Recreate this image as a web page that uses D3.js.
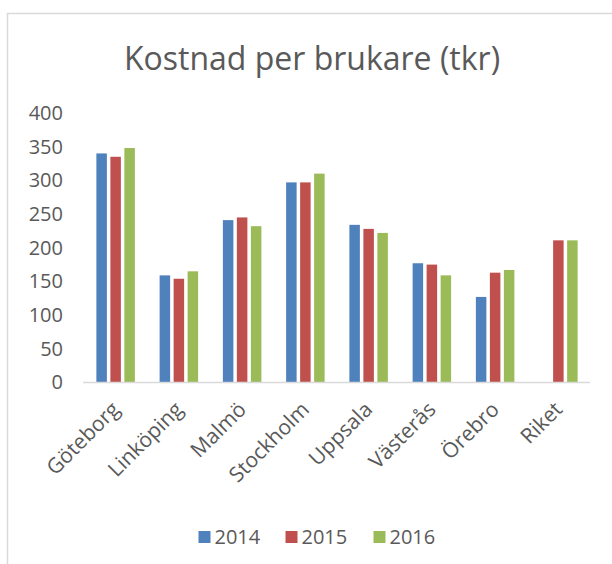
<!DOCTYPE html>
<html><head><meta charset="utf-8">
<script src="https://cdn.jsdelivr.net/npm/d3@7"></script>
<style>body{margin:0;background:#fff}svg{display:block}</style>
</head><body>
<script>
const categories = ["Göteborg","Linköping","Malmö","Stockholm","Uppsala","Västerås","Örebro","Riket"];
const seriesNames = ["2014","2015","2016"];
const v2014 = [340,159,241,297,234,177,127,null];
const v2015 = [335,154,245,297,228,175,163,211];
const v2016 = [348,165,232,310,222,159,167,211];
const yTicks = [0,50,100,150,200,250,300,350,400];
const colors = ["#4F81BD","#C0504D","#9BBB59"];
const seriesVals = [v2014, v2015, v2016];

const W = 612, H = 564;
const svg = d3.select("body").append("svg").attr("width", W).attr("height", H);
const font = "'Open Sans', 'Noto Sans', sans-serif";
const txt = "#595959";

// frame
svg.append("path").attr("d", `M7.5,${H} V13.5 H${W}`).attr("fill","none").attr("stroke","#D9D9D9").attr("stroke-width",1.5);

svg.append("text").attr("x", 312).attr("y", 70).attr("text-anchor","middle")
  .attr("font-family", font).attr("font-size", 32).attr("fill", txt).text("Kostnad per brukare (tkr)");

const x0 = d3.scaleBand().domain(categories).range([84, 590]).paddingInner(0).paddingOuter(0);
const y = d3.scaleLinear().domain([0,400]).range([382.5, 113]);

// y labels
const yAxis = svg.append("g").attr("transform","translate(63,0)")
  .call(d3.axisLeft(y).tickValues(yTicks).tickSize(0).tickPadding(0));
yAxis.select(".domain").remove();
yAxis.selectAll("text").attr("font-family", font).attr("font-size", 20).attr("fill", txt);

// bars
const step = 14, bw = 10.5;
seriesVals.forEach((vals, si) => {
  svg.append("g").selectAll("rect").data(categories.map((c,i)=>({c, v: vals[i]})).filter(d=>d.v!=null))
    .join("rect")
    .attr("x", d => x0(d.c) + x0.bandwidth()/2 + (si-1)*step - bw/2)
    .attr("width", bw)
    .attr("y", d => y(d.v))
    .attr("height", d => y(0) - y(d.v))
    .attr("fill", colors[si]);
});

// x axis line
svg.append("line").attr("x1",83).attr("x2",590).attr("y1",y(0)).attr("y2",y(0))
  .attr("stroke","#D9D9D9").attr("stroke-width",1.5);

// x labels
svg.append("g").selectAll("text").data(categories).join("text")
  .attr("transform", d => `translate(${x0(d)+x0.bandwidth()/2},${y(0)+23}) rotate(-45)`)
  .attr("text-anchor","end").attr("dy","0.35em")
  .attr("font-family", font).attr("font-size", 21).attr("fill", txt).text(d=>d);

// legend
const legX = [198.5, 285.5, 373.5];
const lg = svg.append("g");
seriesNames.forEach((n,i)=>{
  lg.append("rect").attr("x", legX[i]).attr("y", 531).attr("width", 12).attr("height", 12).attr("fill", colors[i]);
  lg.append("text").attr("x", legX[i]+16).attr("y", 544).attr("font-family", font).attr("font-size", 20)
    .attr("fill", txt).text(n);
});
</script>
</body></html>
